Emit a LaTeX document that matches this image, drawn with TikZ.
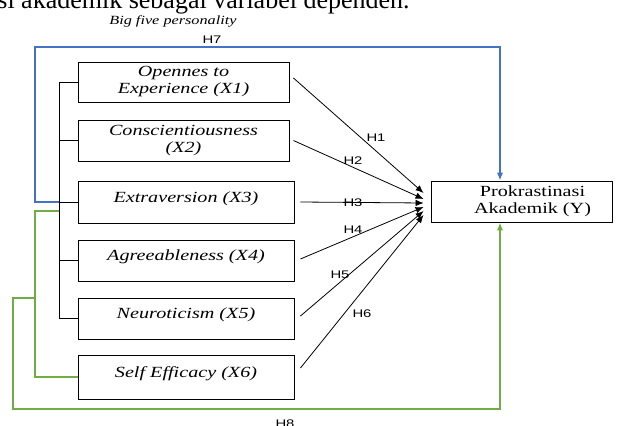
\documentclass[tikz,border=0pt]{standalone}
\usepackage{fontspec}
\setmainfont{Liberation Serif}[FakeStretch=1.3]
\newfontfamily\bodyfont{Liberation Serif}
\newfontfamily\hfont{Liberation Sans}[FakeStretch=1.35]
\usetikzlibrary{arrows.meta}
\definecolor{hblue}{HTML}{4472C4}
\definecolor{hgreen}{HTML}{70AD47}

\begin{document}
\begin{tikzpicture}[x=1pt, y=-1pt, line width=0.8pt,
  var/.style={draw, line width=0.9pt, align=center, inner sep=1pt, font=\fontsize{15.5}{17}\selectfont},
  xvar/.style={var, font=\fontsize{15.5}{17}\selectfont\itshape},
  oneline/.style={text height=10.5pt, text depth=10.5pt},
  hyp/.style={-{Latex[length=8pt,width=6.5pt]}},
  hlab/.style={font=\hfont\fontsize{11}{12}\selectfont, inner sep=0pt},
  h7line/.style={draw=hblue, line width=1.6pt},
  h8line/.style={draw=hgreen, line width=1.6pt}]
\useasboundingbox (0,0) rectangle (622,426);

% 本文・見出し
\node[font=\bodyfont\fontsize{26}{30}\selectfont, anchor=base west, inner sep=0pt] (caption) at (-3,8.5) {si akademik sebagai variabel dependen.};
\node[font=\itshape\fontsize{12.5}{14}\selectfont, inner sep=0pt] (title) at (173,21.5) {Big five personality};

% ノード(座標で配置)
\node[xvar, minimum width=211, minimum height=40]          (x1)   at (183.5,82)    {Opennes to\\Experience (X1)};
\node[xvar, minimum width=211, minimum height=41]          (x2)   at (183.5,140.5) {Conscientiousness\\(X2)};
\node[xvar, oneline, minimum width=216, minimum height=42] (x3)   at (186,202)     {Extraversion (X3)};
\node[xvar, oneline, minimum width=216, minimum height=41] (x4)   at (186,260.5)   {Agreeableness (X4)};
\node[xvar, oneline, minimum width=216, minimum height=41] (x5)   at (186,318.5)   {Neuroticism (X5)};
\node[xvar, oneline, minimum width=216, minimum height=44] (x6)   at (186,377)     {Self Efficacy (X6)};
\node[var, minimum width=181, minimum height=41]           (ybox) at (521.5,201.5) {};
\node[font=\fontsize{15.5}{17}\selectfont, align=center, inner sep=0pt] (ytext) at (532.5,201.5) {Prokrastinasi\\Akademik (Y)};

% 括弧線
\coordinate (trunk) at (59,0);
\draw (x1.west) -| (trunk |- x5.west) -- (x5.west);
\foreach \b in {x2,x3,x4} \draw (\b.west) -- (trunk |- \b.west);

% 矢印
\draw[hyp] ([xshift=4,yshift=4]x1.east)   -- ([xshift=-7,yshift=8.5]ybox.west);
\draw[hyp] ([xshift=4]x2.east)            -- ([xshift=-7,yshift=2.5]ybox.west);
\draw[hyp] ([xshift=6]x3.east)            -- ([xshift=-7,yshift=-1.5]ybox.west);
\draw[hyp] ([xshift=6,yshift=1.5]x4.east) -- ([xshift=-7,yshift=-5.5]ybox.west);
\draw[hyp] ([xshift=6,yshift=2.5]x5.east) -- ([xshift=-7,yshift=-9.5]ybox.west);
\draw[hyp] ([xshift=6,yshift=9]x6.east)   -- ([xshift=-7,yshift=-13.5]ybox.west);

% H7, H8
\coordinate (h7corner) at (35,47);
\coordinate (yin)  at ([xshift=-21.5]ybox.north);
\coordinate (yout) at ([xshift=-21.5]ybox.south);
\draw[h7line, hyp] (trunk |- x3.west) -| (h7corner) -| (yin);
\coordinate (h8join) at (59,211);
\draw[h8line] (x6.west) -| ([xshift=-24]h8join) -- (h8join);
\coordinate (h8split) at (35,298);
\coordinate (h8corner) at (13,409);
\draw[h8line, hyp] (h8split) -| (h8corner) -| (yout);

% 注記
\node[hlab] (lh1) at (376,138) {H1};
\node[hlab] (lh2) at (353,161) {H2};
\node[hlab] (lh3) at (353,203) {H3};
\node[hlab] (lh4) at (353,230) {H4};
\node[hlab] (lh5) at (340,275) {H5};
\node[hlab] (lh6) at (362,314) {H6};
\node[hlab] (lh7) at (212,40)  {H7};
\node[hlab] (lh8) at (285,423.5) {H8};
\end{tikzpicture}
\end{document}
